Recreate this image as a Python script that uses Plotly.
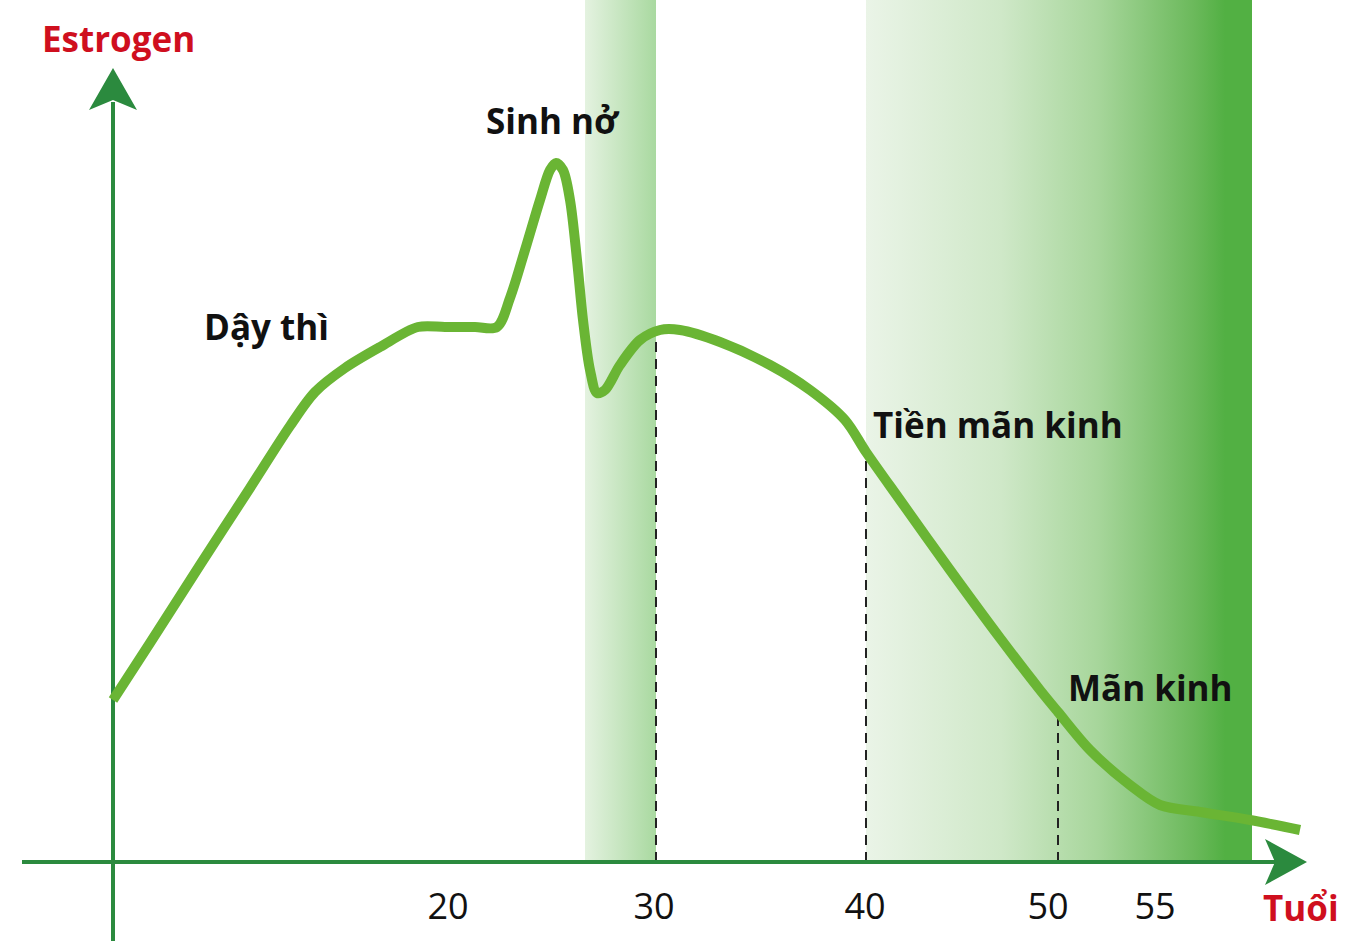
import plotly.graph_objects as go

# ---- data (age-like x units, estrogen level y units) ----
age = [2.9, 4.75, 7.25, 9.75, 11.75, 13.0, 14.5, 16.25, 18.15, 19.5, 21.0, 22.1,
       22.75, 23.5, 24.25, 24.75, 25.05, 25.4, 25.75, 26.1, 26.4, 26.75, 27.1,
       27.5, 28.25, 29.25, 30.25, 31.25, 33.25, 35.75, 37.75, 39.5, 40.55,
       42.25, 44.75, 47.25, 49.25, 50.15, 51.75, 53.75, 55.25, 57.25, 59.75,
       62.25]
estrogen = [16.2, 21.9, 29.7, 37.4, 43.6, 47.0, 49.4, 51.5, 53.5, 53.5, 53.5, 53.5,
            56.4, 61.2, 66.2, 69.2, 69.9, 69.2, 66.2, 60.2, 54.2, 49.2, 46.9,
            47.2, 49.7, 52.2, 53.2, 53.2, 52.0, 49.7, 47.2, 44.2, 41.0,
            36.2, 29.2, 22.4, 17.2, 15.0, 11.2, 7.7, 5.7, 5.0, 4.2,
            3.2]

tick_pos = [19.65, 29.95, 40.5, 49.65, 55.0]
tick_text = ["20", "30", "40", "50", "55"]

marker_x = [30.05, 40.55, 50.15]
marker_top = [52.9, 41.0, 15.0]

band1 = [26.5, 30.05]
band2 = [40.55, 59.85]

label_text = ["Dậy thì", "Sinh nở", "Tiền mãn kinh", "Mãn kinh"]
label_x = [10.55, 24.9, 47.15, 54.75]
label_y = [53.6, 74.2, 43.8, 17.5]

# ---- styling ----
X_RANGE = [-2.75, 65.55]
Y_RANGE = [-7.9, 86.2]
AXIS_GREEN = "#2b8a3e"
CURVE_GREEN = "#6ab534"
FONT = "Open Sans"

fig = go.Figure()

# gradient bands
fig.add_trace(go.Scatter(
    x=[band1[0], band1[1], band1[1], band1[0], band1[0]],
    y=[0, 0, 95, 95, 0], mode="lines", line=dict(width=0),
    fill="toself",
    fillgradient=dict(type="horizontal",
                      colorscale=[[0, "#e4f2e0"], [1, "#a9d9a0"]]),
    hoverinfo="skip", showlegend=False))
fig.add_trace(go.Scatter(
    x=[band2[0], band2[1], band2[1], band2[0], band2[0]],
    y=[0, 0, 95, 95, 0], mode="lines", line=dict(width=0),
    fill="toself",
    fillgradient=dict(type="horizontal",
                      colorscale=[[0, "#eaf4e7"], [0.35, "#cfe8c8"],
                                  [0.6, "#a7d69b"], [0.85, "#6bb95b"],
                                  [0.93, "#52b043"], [1, "#52b043"]]),
    hoverinfo="skip", showlegend=False))

# dashed markers
for mx, mt in zip(marker_x, marker_top):
    fig.add_trace(go.Scatter(
        x=[mx, mx], y=[0, mt], mode="lines",
        line=dict(color="#222222", width=2, dash="10px,7px"),
        hoverinfo="skip", showlegend=False))

# axis shafts
fig.add_trace(go.Scatter(x=[-1.65, 61.2], y=[0, 0], mode="lines",
                         line=dict(color=AXIS_GREEN, width=4),
                         hoverinfo="skip", showlegend=False))
fig.add_trace(go.Scatter(x=[2.9, 2.9], y=[-8.5, 76.0], mode="lines",
                         line=dict(color=AXIS_GREEN, width=4),
                         hoverinfo="skip", showlegend=False))

# estrogen curve
fig.add_trace(go.Scatter(x=age, y=estrogen, mode="lines",
                         line=dict(color=CURVE_GREEN, width=10,
                                   shape="spline", smoothing=0.9),
                         hoverinfo="skip", showlegend=False))

# arrowheads
fig.add_shape(type="path", xref="x", yref="y", xsizemode="pixel",
              ysizemode="pixel", xanchor=62.6, yanchor=0,
              path="M0,0 L-42,-23 L-32,0 L-42,23 Z",
              fillcolor=AXIS_GREEN, line=dict(width=0), layer="above")
fig.add_shape(type="path", xref="x", yref="y", xsizemode="pixel",
              ysizemode="pixel", xanchor=2.9, yanchor=79.4,
              path="M0,0 L-24,-42 L0,-32 L24,-42 Z",
              fillcolor=AXIS_GREEN, line=dict(width=0), layer="above")

# labels
for t, lx, ly in zip(label_text, label_x, label_y):
    fig.add_annotation(x=lx, y=ly, text=t, showarrow=False,
                       xanchor="center", yanchor="middle",
                       font=dict(family=FONT, size=35, color="#111111",
                                 weight="bold"))
fig.add_annotation(x=3.15, y=82.4, text="Estrogen", showarrow=False,
                   xanchor="center", yanchor="middle",
                   font=dict(family=FONT, size=35, color="#cf0f1e",
                             weight="bold"))
fig.add_annotation(x=62.3, y=-4.5, text="Tuổi", showarrow=False,
                   xanchor="center", yanchor="middle",
                   font=dict(family=FONT, size=35, color="#cf0f1e",
                             weight="bold"))

fig.update_layout(
    width=1366, height=941,
    margin=dict(l=0, r=0, t=0, b=0, pad=0),
    paper_bgcolor="white", plot_bgcolor="white",
    showlegend=False,
    xaxis=dict(range=X_RANGE, showgrid=False, zeroline=False, showline=False,
               ticks="", tickvals=tick_pos, ticktext=tick_text,
               tickfont=dict(family=FONT, size=36, color="#111111"),
               anchor="free", position=(941 - 862) / 941,
               ticklabelstandoff=20, fixedrange=True),
    yaxis=dict(range=Y_RANGE, visible=False, fixedrange=True),
)

fig.write_html("out.html", config={"displayModeBar": False},
               post_script="document.body.style.margin='0';")
